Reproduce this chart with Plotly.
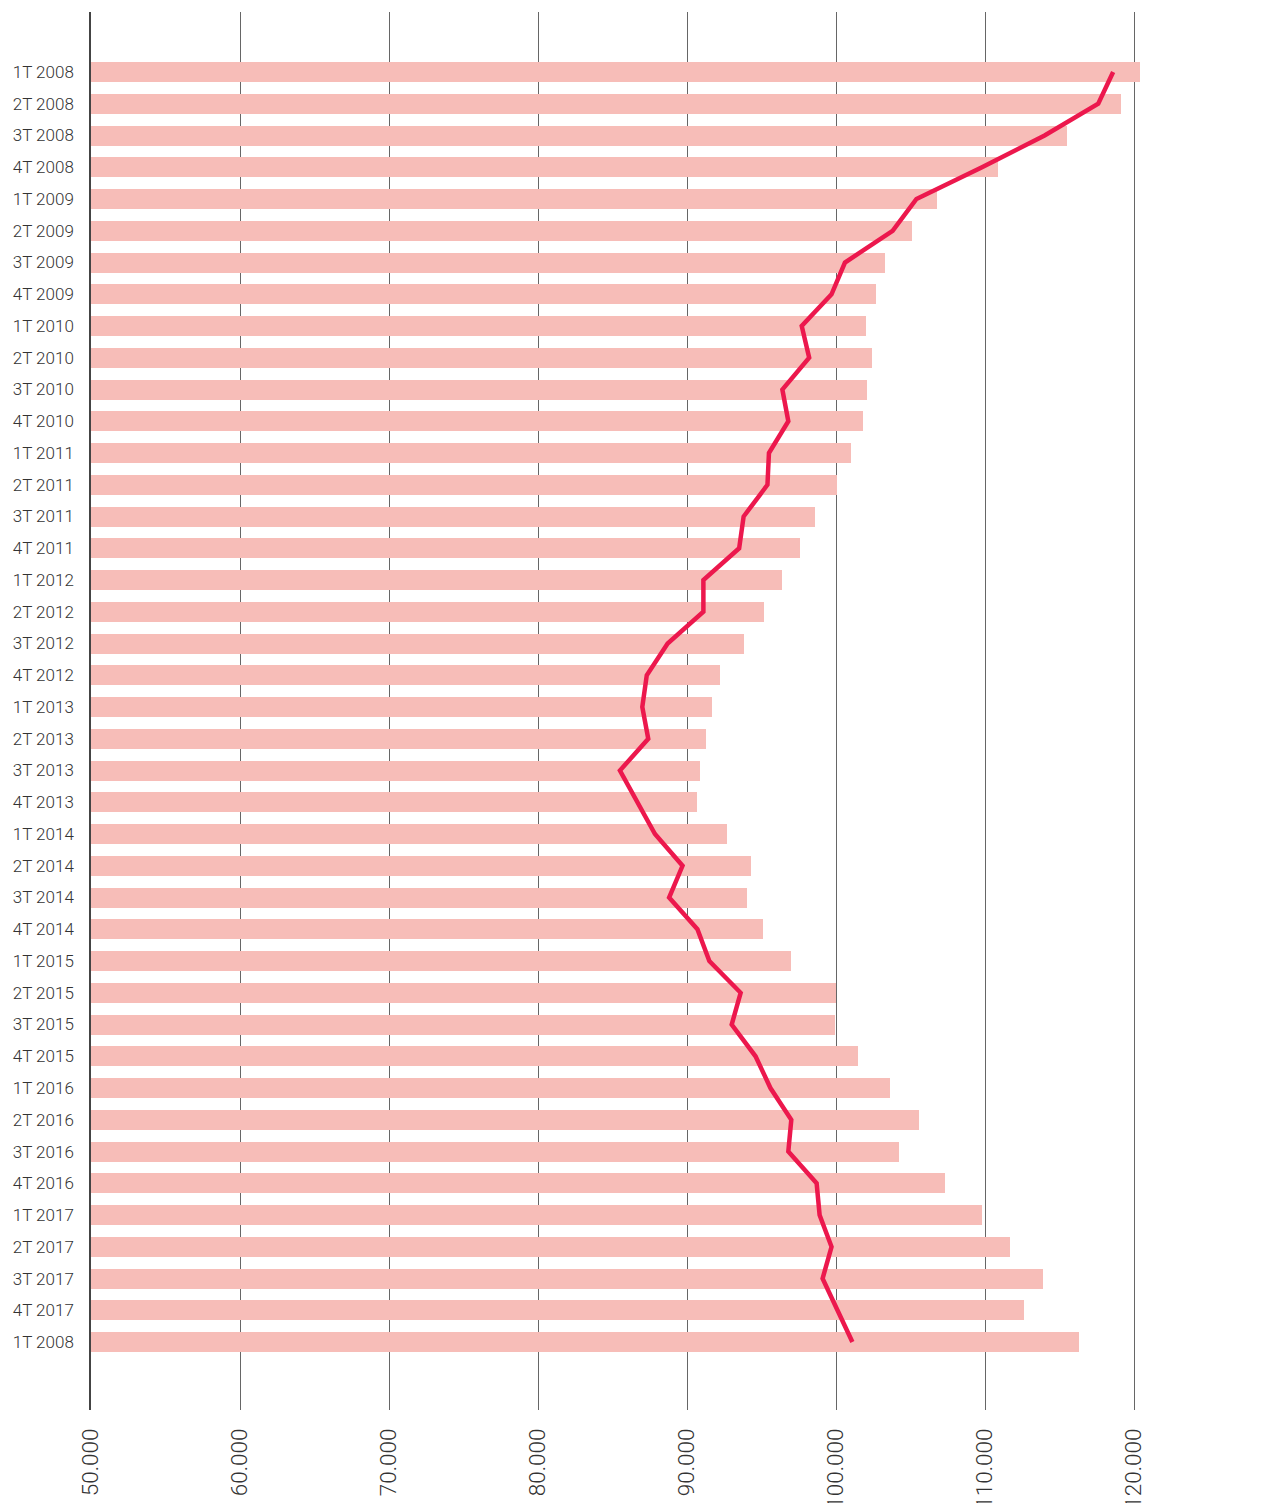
import plotly.graph_objects as go

categories = [
    "1T 2008", "2T 2008", "3T 2008", "4T 2008",
    "1T 2009", "2T 2009", "3T 2009", "4T 2009",
    "1T 2010", "2T 2010", "3T 2010", "4T 2010",
    "1T 2011", "2T 2011", "3T 2011", "4T 2011",
    "1T 2012", "2T 2012", "3T 2012", "4T 2012",
    "1T 2013", "2T 2013", "3T 2013", "4T 2013",
    "1T 2014", "2T 2014", "3T 2014", "4T 2014",
    "1T 2015", "2T 2015", "3T 2015", "4T 2015",
    "1T 2016", "2T 2016", "3T 2016", "4T 2016",
    "1T 2017", "2T 2017", "3T 2017", "4T 2017",
    "1T 2008",
]

bar_values = [
    120.4, 119.1, 115.5, 110.9,
    106.8, 105.1, 103.3, 102.7,
    102.0, 102.4, 102.1, 101.8,
    101.0, 100.1, 98.6, 97.6,
    96.4, 95.2, 93.8, 92.2,
    91.7, 91.3, 90.9, 90.7,
    92.7, 94.3, 94.0, 95.1,
    97.0, 100.0, 99.9, 101.5,
    103.6, 105.6, 104.2, 107.3,
    109.8, 111.7, 113.9, 112.6,
    116.3,
]

line_values = [
    118.6, 117.6, 114.0, 109.8,
    105.4, 103.8, 100.6, 99.7,
    97.7, 98.2, 96.4, 96.8,
    95.5, 95.4, 93.8, 93.5,
    91.1, 91.1, 88.7, 87.3,
    87.0, 87.4, 85.5, 86.7,
    87.85, 89.7, 88.8, 90.7,
    91.5, 93.6, 93.0, 94.6,
    95.6, 97.0, 96.8, 98.7,
    98.9, 99.7, 99.1, 100.1,
    101.1,
]

x_tick_vals = [50, 60, 70, 80, 90, 100, 110, 120, 130]
x_tick_text = ["50.000", "60.000", "70.000", "80.000", "90.000",
               "100.000", "110.000", "120.000", "130.000"]

positions = list(range(len(categories)))

# the page body adds an 8px offset, so the figure is narrowed by it
W, H = 1272, 1503
ML, MT, MB, MR = 83, 4, 101, 0
px_per_unit = 14.9
x_min = 50
x_max = x_min + (W - ML - MR) / px_per_unit

fig = go.Figure()
fig.add_trace(go.Bar(
    y=positions, x=[v - x_min for v in bar_values], base=x_min,
    orientation="h", width=0.63,
    marker=dict(color="#f7bdb8", line=dict(width=0)),
    showlegend=False, hoverinfo="skip",
))
fig.add_trace(go.Scatter(
    y=positions, x=line_values, mode="lines",
    line=dict(color="#ec184d", width=4.5),
    showlegend=False, hoverinfo="skip",
))

font_family = "Roboto"
tick_font = dict(size=22.5, family=font_family, color="#333333", weight=300)
fig.update_layout(
    width=W, height=H,
    margin=dict(l=ML, r=MR, t=MT, b=MB, pad=0, autoexpand=False),
    paper_bgcolor="white", plot_bgcolor="white",
    font=dict(family=font_family, color="#333333"),
    bargap=0,
)
fig.update_xaxes(
    range=[x_min, x_max], automargin=False,
    tickvals=x_tick_vals[:-1], ticktext=x_tick_text[:-1],
    tickangle=-90, ticklabeloverflow="allow",
    tickfont=tick_font,
    showgrid=True, gridcolor="#666666", gridwidth=1,
    zeroline=False, showline=False, ticks="", ticklabelstandoff=13,
    fixedrange=True,
)
fig.update_yaxes(
    range=[42.14, -1.89], automargin=False,
    tickvals=positions, ticktext=categories,
    tickfont=dict(size=17, family=font_family, color="#333333", weight=300),
    showgrid=False, zeroline=False,
    showline=True, linecolor="#444444", linewidth=1.5,
    ticks="", ticklabelstandoff=12,
    fixedrange=True,
)

# last tick label sits at the right edge of the page and is cut by it
frac_last = (x_tick_vals[-1] - x_min) / (x_max - x_min)
fig.add_annotation(
    x=frac_last, xref="paper", y=0, yref="paper",
    text=x_tick_text[-1], showarrow=False, textangle=-90,
    xanchor="center", yanchor="top", yshift=-13,
    font=tick_font,
)

fig.write_html("out.html")
